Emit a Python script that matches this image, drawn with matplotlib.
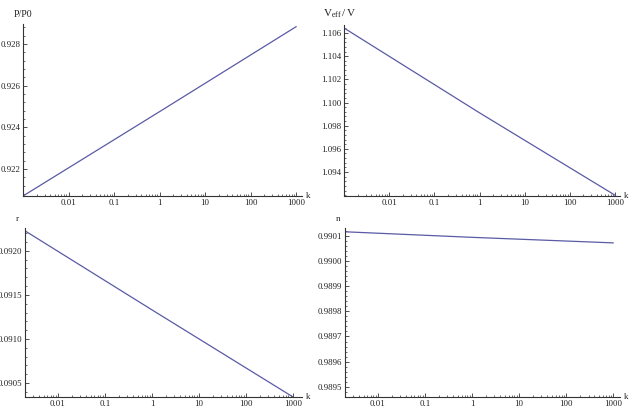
import matplotlib
matplotlib.use("Agg")
import matplotlib.pyplot as plt
from matplotlib.ticker import FixedLocator, AutoMinorLocator, LogLocator, NullFormatter, FuncFormatter

plt.rcParams['font.family'] = ['Liberation Serif', 'DejaVu Serif']
plt.rcParams['mathtext.fontset'] = 'custom'
plt.rcParams['mathtext.rm'] = 'Liberation Serif'

# data
k_top = [0.001, 1, 1000]
p_ratio = [0.92070, 0.92475, 0.92883]
v_ratio = [1.10643, 1.09911, 1.09200]
k_bot = [0.002, 1, 1000]
r_vals = [0.092228, 0.09133, 0.09034]
n_vals = [0.990115, 0.990093, 0.990071]

x_major = [0.01, 0.1, 1, 10, 100, 1000]
x_labels = ["0.01", "0.1", "1", "10", "100", "1000"]
p_ticks = [0.922, 0.924, 0.926, 0.928]
v_ticks = [1.094, 1.096, 1.098, 1.100, 1.102, 1.104, 1.106]
r_ticks = [0.0905, 0.0910, 0.0915, 0.0920]
n_ticks = [0.9895, 0.9896, 0.9897, 0.9898, 0.9899, 0.9900, 0.9901]

W, H = 633, 417
fig = plt.figure(figsize=(W / 100, H / 100), dpi=100)

line_color = '#5a5aa6'
axis_color = '#333333'
FS = 6.4

def make_ax(x0, x1, y0, y1):
    return fig.add_axes([x0 / W, 1 - y1 / H, (x1 - x0) / W, (y1 - y0) / H])

def style(ax, xlim, ylim, yticks, yfmt, ylabel, lfs=FS, lx=-0.035):
    ax.set_xscale('log')
    ax.set_xlim(*xlim)
    ax.set_ylim(*ylim)
    for s in ['top', 'right']:
        ax.spines[s].set_visible(False)
    for s in ['left', 'bottom']:
        ax.spines[s].set_color(axis_color)
        ax.spines[s].set_linewidth(0.8)
    ax.xaxis.set_major_locator(FixedLocator(x_major))
    ax.set_xticklabels(x_labels)
    ax.xaxis.set_minor_locator(LogLocator(base=10, subs=range(2, 10)))
    ax.xaxis.set_minor_formatter(NullFormatter())
    ax.yaxis.set_major_locator(FixedLocator(yticks))
    ax.yaxis.set_major_formatter(FuncFormatter(lambda v, p: yfmt.format(v)))
    ax.yaxis.set_minor_locator(AutoMinorLocator(5))
    ax.tick_params(which='major', direction='in', length=3.2, width=0.6,
                   color=axis_color, labelsize=FS, pad=2, labelcolor='#222222')
    ax.tick_params(which='minor', direction='in', length=1.6, width=0.5,
                   color=axis_color)
    ax.patch.set_alpha(0)
    ax.text(1.015, 0, 'k', transform=ax.transAxes, fontsize=FS,
            ha='left', va='center', color='#222222')
    ax.text(lx, 1.03, ylabel, transform=ax.transAxes, fontsize=lfs,
            ha='left', va='bottom', color='#222222')

ax1 = make_ax(23, 302, 24, 196)
ax1.plot(k_top, p_ratio, color=line_color, lw=0.9)
style(ax1, (0.001, 1350), (0.92070, 0.92896), p_ticks, "{:.3f}", "P/P0", lfs=7)

ax2 = make_ax(344, 620, 25, 196)
ax2.plot(k_top, v_ratio, color=line_color, lw=0.9)
style(ax2, (0.001, 1290), (1.09193, 1.10669), v_ticks, "{:.3f}",
      r"$\mathrm{V}_{\mathrm{eff}}\,/\,\mathrm{V}$", lfs=8, lx=-0.075)

ax3 = make_ax(25, 302, 228, 397)
ax3.plot(k_bot, r_vals, color=line_color, lw=0.9)
style(ax3, (0.002, 1550), (0.09034, 0.09226), r_ticks, "{:.4f}", "r")

ax4 = make_ax(345, 620, 228, 397)
ax4.plot(k_bot, n_vals, color=line_color, lw=0.9)
style(ax4, (0.002, 1400), (0.98946, 0.99013), n_ticks, "{:.4f}", "n")

fig.savefig('out.png', dpi=100)
